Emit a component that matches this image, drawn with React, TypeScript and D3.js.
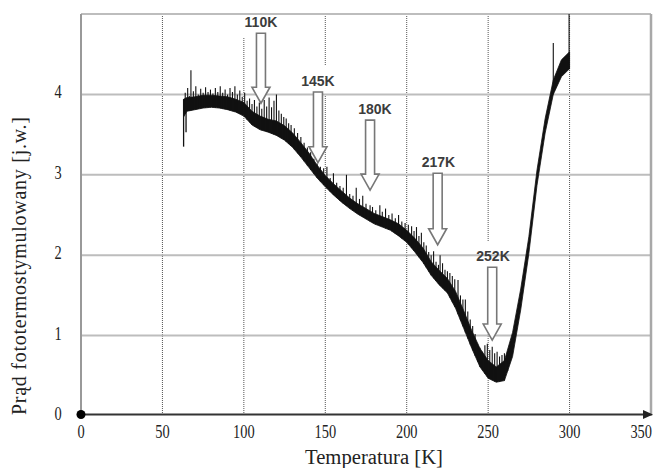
import { useEffect, useRef } from 'react';
import * as d3 from 'd3';

// band of the measured curve (lower / upper edge of the noisy trace)
const temps = [63, 65, 70, 75, 80, 85, 90, 95, 100, 105, 110, 115, 120, 125, 130, 135, 140, 145, 150, 155, 160, 165, 170, 175, 180, 185, 190, 195, 200, 205, 210, 215, 220, 225, 230, 235, 240, 245, 250, 255, 260, 265, 270, 275, 280, 285, 290, 295, 300];
const lower = [3.72, 3.79, 3.81, 3.83, 3.84, 3.83, 3.81, 3.78, 3.73, 3.62, 3.56, 3.53, 3.49, 3.43, 3.34, 3.22, 3.09, 2.96, 2.85, 2.75, 2.66, 2.58, 2.51, 2.45, 2.39, 2.35, 2.31, 2.24, 2.16, 2.04, 1.91, 1.75, 1.63, 1.53, 1.34, 1.09, 0.84, 0.61, 0.47, 0.42, 0.44, 0.74, 1.32, 2.02, 2.87, 3.52, 4.0, 4.22, 4.32];
const upper = [3.94, 3.96, 3.97, 3.99, 3.99, 3.98, 3.97, 3.94, 3.9, 3.79, 3.73, 3.69, 3.67, 3.61, 3.52, 3.4, 3.27, 3.12, 2.99, 2.89, 2.8, 2.71, 2.64, 2.58, 2.52, 2.48, 2.44, 2.39, 2.31, 2.21, 2.09, 1.92, 1.81, 1.71, 1.55, 1.31, 1.06, 0.84, 0.69, 0.61, 0.69, 1.04, 1.58, 2.23, 3.06, 3.7, 4.18, 4.43, 4.53];

// sharp upward noise spikes on the trace (temperature, peak value)
const spikeTemps = [64, 65.5, 66.5, 67.5, 69, 70.5, 72, 73.5, 75, 76.5, 78, 79.5, 81, 82.5, 84, 85.5, 87, 88.5, 90, 91.5, 93, 94.5, 96, 97.5, 99, 100.5, 102, 103.5, 105, 106.5, 108, 109.5, 111, 112.5, 114, 115.5, 117, 118.5, 120, 121.5, 123, 124.5, 126, 127.5, 129, 131, 133, 135, 137, 139, 141, 143, 145, 147, 149, 151, 153, 155, 157, 159, 161, 163, 165, 167, 169, 171, 173, 175, 177.5, 179, 181, 183.5, 185, 187, 189, 191, 193, 195, 197, 199, 201, 203, 204.5, 206, 207.5, 209, 210.5, 212, 213.5, 215, 216.5, 218, 219.5, 220.5, 222, 223.5, 225, 226.5, 228, 229.5, 231.5, 233, 234.5, 236, 237.5, 239, 240.5, 242, 243.5, 245, 246.5, 248, 249.5, 251, 252.5, 254, 255.5, 257, 258.5, 260, 262, 290, 299.7];
const spikeHigh = [4.02, 4.08, 3.98, 4.3, 4.04, 4.1, 4.0, 4.07, 4.02, 4.09, 4.03, 4.06, 4.01, 4.08, 4.03, 4.1, 4.02, 4.06, 4.0, 4.08, 4.03, 4.1, 4.0, 4.05, 3.97, 4.02, 3.92, 3.95, 3.88, 3.93, 3.85, 3.9, 3.82, 3.93, 3.85, 3.96, 3.84, 3.92, 4.0, 3.8, 3.76, 3.72, 3.7, 3.64, 3.62, 3.58, 3.52, 3.47, 3.4, 3.34, 3.28, 3.2, 3.14, 3.1, 3.08, 3.1, 2.96, 3.02, 2.9, 2.86, 2.84, 3.0, 2.76, 2.74, 2.84, 2.7, 2.74, 2.64, 2.62, 2.6, 2.56, 2.62, 2.54, 2.58, 2.5, 2.52, 2.46, 2.5, 2.42, 2.4, 2.38, 2.36, 2.3, 2.35, 2.24, 2.28, 2.16, 2.12, 2.04, 2.0, 2.05, 1.92, 1.88, 2.0, 1.9, 1.82, 1.8, 1.78, 1.74, 1.7, 1.69, 1.5, 1.45, 1.45, 1.3, 1.2, 1.12, 1.02, 0.9, 0.85, 0.8, 0.88, 0.9, 0.82, 0.86, 0.78, 0.8, 0.74, 0.76, 0.78, 0.8, 4.64, 5.2];

// downward spikes at the start of the run (temperature, dip value)
const dipTemps = [63, 64.5];
const dipLow = [3.35, 3.53];

// annotation arrows
const arrowLabels = ['110K', '145K', '180K', '217K', '252K'];
const arrowTemps = [110.5, 145.5, 177.5, 219, 252.5];
const labelTemps = [110.5, 145.5, 180.5, 219.5, 253];
const arrowTop = [4.76, 4.03, 3.68, 3.02, 1.85];
const arrowTip = [3.89, 3.15, 2.81, 2.13, 0.945];

const xTicks = [0, 50, 100, 150, 200, 250, 300, 350];
const yTicks = [0, 1, 2, 3, 4];
const yGrid = [1, 2, 3, 4, 5];
const xGrid = [50, 100, 150, 200, 250, 300];

export default function App() {
    const ref = useRef<SVGSVGElement | null>(null);

    useEffect(() => {
        if (!ref.current) return;
        const svg = d3.select(ref.current);
        svg.selectAll('*').remove();

        const x = d3.scaleLinear().domain([0, 350]).range([81, 651]);
        const y = d3.scaleLinear().domain([0, 5]).range([416, 14]);
        const bandLow = d3.scaleLinear().domain(temps).range(lower);
        const bandHigh = d3.scaleLinear().domain(temps).range(upper);

        svg.append('rect').attr('width', 656).attr('height', 468).attr('fill', '#fff');

        svg.append('defs').append('clipPath').attr('id', 'plot-clip')
            .append('rect')
            .attr('x', x(0)).attr('y', y(5))
            .attr('width', x(350) - x(0)).attr('height', y(0) - y(5));

        // vertical dotted grid
        svg.append('g').selectAll('line').data(xGrid).enter().append('line')
            .attr('x1', d => x(d)).attr('x2', d => x(d))
            .attr('y1', y(5)).attr('y2', y(0))
            .attr('stroke', '#555').attr('stroke-width', 1)
            .attr('stroke-dasharray', '1,1');

        // white boxes behind annotation labels
        svg.append('g').selectAll('rect').data(arrowLabels).enter().append('rect')
            .attr('x', (d, i) => x(labelTemps[i]) - 20)
            .attr('y', (d, i) => y(arrowTop[i]) - 26)
            .attr('width', 40).attr('height', 30)
            .attr('fill', '#fff');

        // horizontal grid
        svg.append('g').selectAll('line').data(yGrid).enter().append('line')
            .attr('x1', x(0)).attr('x2', x(350))
            .attr('y1', d => y(d)).attr('y2', d => y(d))
            .attr('stroke', '#bdbdbd').attr('stroke-width', 2);

        // right border and left axis
        svg.append('line')
            .attr('x1', x(350)).attr('x2', x(350)).attr('y1', y(5)).attr('y2', y(0))
            .attr('stroke', '#a8a8a8').attr('stroke-width', 2.5);
        svg.append('line')
            .attr('x1', x(0)).attr('x2', x(0)).attr('y1', y(5)).attr('y2', y(0))
            .attr('stroke', '#999').attr('stroke-width', 2);

        // the trace
        const plot = svg.append('g').attr('clip-path', 'url(#plot-clip)');
        const band = temps.map((t, i) => ({ t, lo: lower[i], hi: upper[i] }));
        const area = d3.area<{ t: number; lo: number; hi: number }>()
            .x(d => x(d.t)).y0(d => y(d.lo)).y1(d => y(d.hi));
        plot.append('path')
            .attr('d', area(band))
            .attr('fill', '#111').attr('stroke', '#111').attr('stroke-width', 0.8)
            .attr('stroke-linejoin', 'round');

        plot.append('g').selectAll('line').data(spikeTemps).enter().append('line')
            .attr('x1', d => x(d)).attr('x2', d => x(d))
            .attr('y1', d => y(bandLow(d))).attr('y2', (d, i) => y(spikeHigh[i]))
            .attr('stroke', '#111').attr('stroke-width', 1.1);

        plot.append('g').selectAll('line').data(dipTemps).enter().append('line')
            .attr('x1', d => x(d)).attr('x2', d => x(d))
            .attr('y1', d => y(bandHigh(d))).attr('y2', (d, i) => y(dipLow[i]))
            .attr('stroke', '#111').attr('stroke-width', 1.3);

        // arrows
        const arrows = svg.append('g');
        arrowLabels.forEach((label, i) => {
            const cx = x(arrowTemps[i]);
            const top = y(arrowTop[i]);
            const tip = y(arrowTip[i]);
            const neck = tip - 16;
            const p = d3.path();
            p.moveTo(cx - 4.5, top);
            p.lineTo(cx + 4.5, top);
            p.lineTo(cx + 4.5, neck);
            p.lineTo(cx + 9, neck);
            p.lineTo(cx, tip);
            p.lineTo(cx - 9, neck);
            p.lineTo(cx - 4.5, neck);
            p.closePath();
            arrows.append('path')
                .attr('d', p.toString())
                .attr('fill', '#fff').attr('stroke', '#777').attr('stroke-width', 1.6)
                .attr('stroke-linejoin', 'miter');
            arrows.append('text')
                .attr('x', x(labelTemps[i]))
                .attr('y', top - 6)
                .attr('text-anchor', 'middle')
                .attr('font-family', '"Liberation Sans", Arial, sans-serif')
                .attr('font-weight', 'bold')
                .attr('font-size', '14px')
                .attr('fill', '#3c3c3c')
                .text(label);
        });

        // x axis with arrow head
        svg.append('line')
            .attr('x1', x(0)).attr('x2', x(350) - 4)
            .attr('y1', y(0) - 1.5).attr('y2', y(0) - 1.5)
            .attr('stroke', '#333').attr('stroke-width', 2);
        svg.append('path')
            .attr('d', `M${x(350) - 8},${y(0) - 6} L${x(350) + 2},${y(0) - 1.5} L${x(350) - 8},${y(0) + 3} Z`)
            .attr('fill', '#222');
        svg.append('circle')
            .attr('cx', x(0)).attr('cy', y(0) - 1.5).attr('r', 4.5)
            .attr('fill', '#000');

        const serif = '"Liberation Serif", "Times New Roman", serif';

        // tick labels
        svg.append('g').selectAll('text').data(xTicks).enter().append('text')
            .attr('transform', d => `translate(${d === 350 ? x(d) + 1 : x(d)},438) scale(0.8,1)`)
            .attr('text-anchor', d => (d === 350 ? 'end' : 'middle'))
            .attr('font-family', serif).attr('font-size', '18px').attr('fill', '#222')
            .text(d => d);
        svg.append('g').selectAll('text').data(yTicks).enter().append('text')
            .attr('transform', d => `translate(58,${y(d) + 4}) scale(0.8,1)`)
            .attr('text-anchor', 'middle')
            .attr('font-family', serif).attr('font-size', '18px').attr('fill', '#222')
            .text(d => d);

        // axis titles
        svg.append('text')
            .attr('x', 374).attr('y', 464)
            .attr('text-anchor', 'middle')
            .attr('font-family', serif).attr('font-size', '20px').attr('fill', '#222')
            .attr('textLength', 138).attr('lengthAdjust', 'spacingAndGlyphs')
            .text('Temperatura [K]');
        svg.append('text')
            .attr('transform', 'translate(26,266) rotate(-90)')
            .attr('text-anchor', 'middle')
            .attr('font-family', serif).attr('font-size', '20px').attr('fill', '#222')
            .attr('textLength', 298).attr('lengthAdjust', 'spacing')
            .text('Prąd fototermostymulowany [j.w.]');
    }, []);

    return (
        <div style={{ position: 'absolute', left: 0, top: 0 }}>
            <svg ref={ref} width={656} height={468} style={{ display: 'block' }} />
        </div>
    );
}
